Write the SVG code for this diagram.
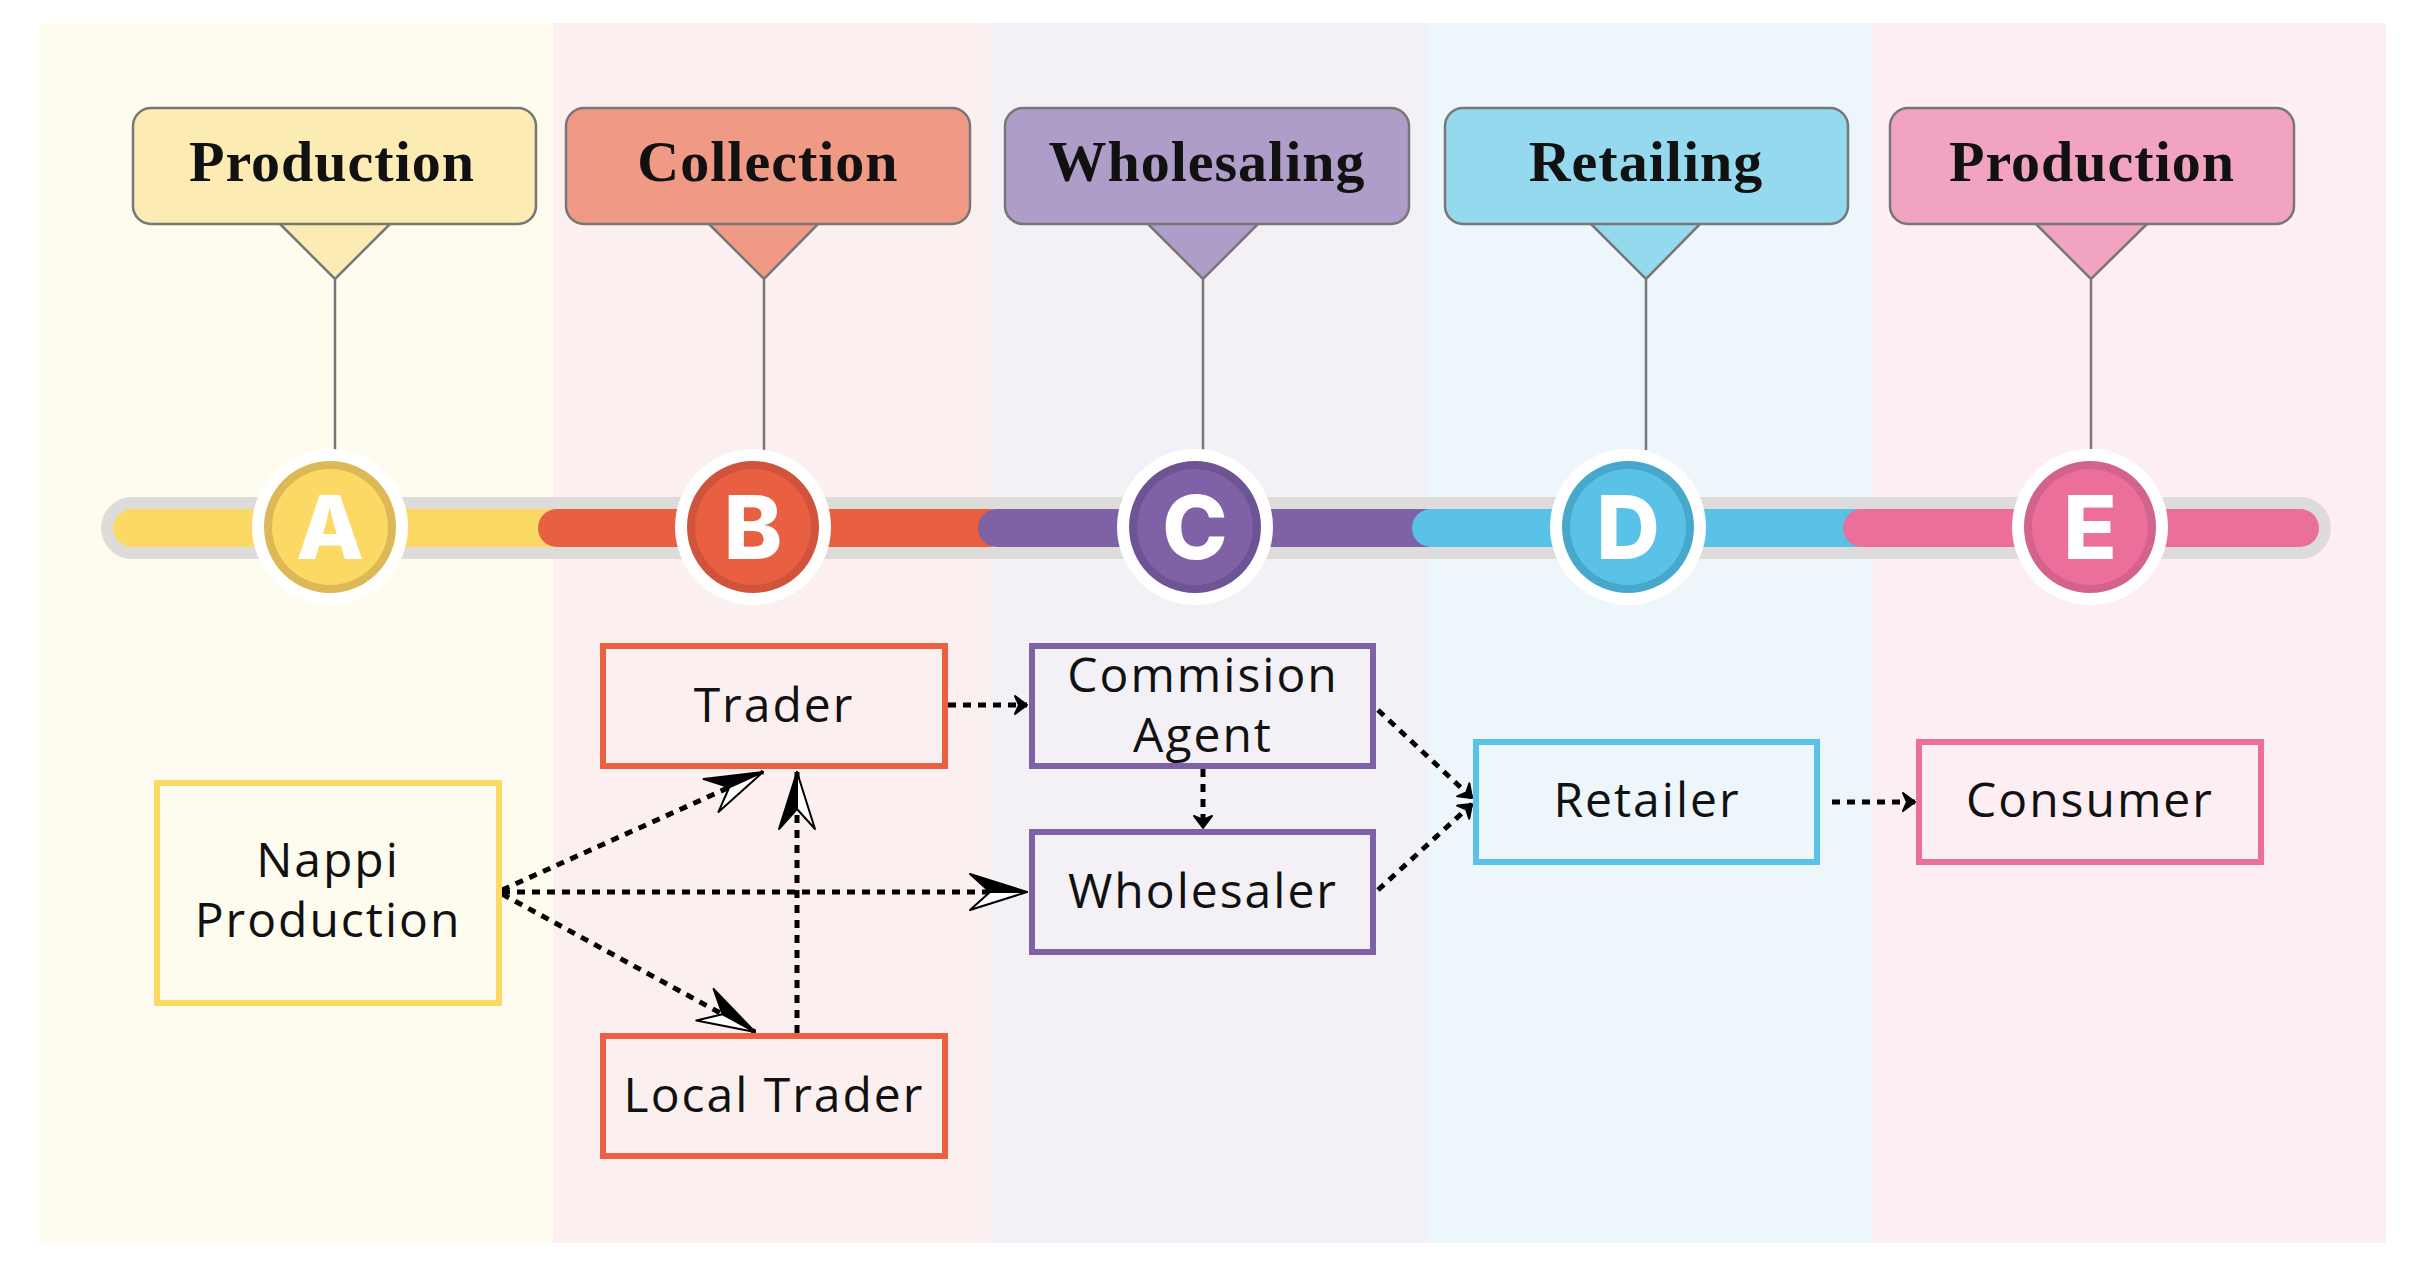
<svg xmlns="http://www.w3.org/2000/svg" width="2418" height="1278" viewBox="0 0 2418 1278">
<style>
.hbox{stroke:#777;stroke-width:2.5}
.htxt{font-family:"Liberation Serif",serif;font-weight:700;font-size:58px;letter-spacing:1px;fill:#111;text-anchor:middle}
.pin{stroke:#777;stroke-width:2.5;fill:none}
.ltr{font-family:Inter,"Open Sans",sans-serif;font-weight:800;font-size:88px;fill:#fff;text-anchor:middle}
.nbox{fill:none;stroke-width:6}
.ntxt{font-family:"Open Sans",sans-serif;font-size:48px;letter-spacing:2px;fill:#111;text-anchor:middle}
.conn{fill:none;stroke:#000;stroke-width:5;stroke-dasharray:8 7}
</style>
<defs>
<marker id="big" viewBox="-60 -20 62 40" markerWidth="62" markerHeight="40" refX="0" refY="0" orient="auto" markerUnits="userSpaceOnUse">
<path d="M0,0 L-57,-18 L-37,0 Z" fill="#000" stroke="#000" stroke-width="2" stroke-linejoin="round"/>
<path d="M0,0 L-37,0 L-57,18 Z" fill="#fff" stroke="#000" stroke-width="2" stroke-linejoin="round"/>
</marker>
<marker id="small" viewBox="-16 -10 18 20" markerWidth="18" markerHeight="20" refX="0" refY="0" orient="auto" markerUnits="userSpaceOnUse">
<path d="M0,0 L-12,-9 L-8,0 L-12,9 Z" fill="#000" stroke="#000" stroke-width="2" stroke-linejoin="round"/>
</marker>
</defs>

<g id="background">
<rect x="40" y="23" width="513" height="1220" fill="#FEFBEF"/>
<rect x="553" y="23" width="437" height="1220" fill="#FBF0EF"/>
<rect x="990" y="23" width="438" height="1220" fill="#F3F0F6"/>
<rect x="1428" y="23" width="445" height="1220" fill="#ECF6FB"/>
<rect x="1873" y="23" width="513" height="1220" fill="#FDEEF3"/>
</g>

<g id="track">
<rect x="101" y="497" width="2230" height="62" rx="31" fill="#DEDCDA"/>
<rect x="113" y="509" width="490" height="38" rx="19" fill="#FCD964"/>
<rect x="538" y="509" width="470" height="38" rx="19" fill="#E95F42"/>
<rect x="978" y="509" width="470" height="38" rx="19" fill="#7E62A5"/>
<rect x="1412" y="509" width="470" height="38" rx="19" fill="#5BC2E7"/>
<rect x="1843" y="509" width="476" height="38" rx="19" fill="#EC6F9B"/>
</g>

<g id="stage-A">
<path d="M280,224 L335,279 L390,224 Z" fill="#FDEBB4"/>
<path class="pin" d="M280,224 L335,279 L390,224 M335,279 L335,450" stroke="#999"/>
<rect class="hbox" x="133" y="108" width="403" height="116" rx="18" fill="#FDEBB4" stroke="#999"/>
<text class="htxt" x="332" y="181">Production</text>
<circle cx="330" cy="527" r="78" fill="#fff"/>
<circle cx="330" cy="527" r="66" fill="#DDB856"/>
<circle cx="330" cy="527" r="58" fill="#FCD964"/>
<text class="ltr" x="330" y="559">A</text>
</g>

<g id="stage-B">
<path d="M709,224 L764,279 L818,224 Z" fill="#F09A86"/>
<path class="pin" d="M709,224 L764,279 L818,224 M764,279 L764,450"/>
<rect class="hbox" x="566" y="108" width="404" height="116" rx="18" fill="#F09A86"/>
<text class="htxt" x="768" y="181">Collection</text>
<circle cx="753" cy="527" r="78" fill="#fff"/>
<circle cx="753" cy="527" r="66" fill="#D0533C"/>
<circle cx="753" cy="527" r="58" fill="#E95F42"/>
<text class="ltr" x="753" y="559">B</text>
</g>

<g id="stage-C">
<path d="M1148,224 L1203,279 L1258,224 Z" fill="#AE9DC8"/>
<path class="pin" d="M1148,224 L1203,279 L1258,224 M1203,279 L1203,450"/>
<rect class="hbox" x="1005" y="108" width="404" height="116" rx="18" fill="#AE9DC8"/>
<text class="htxt" x="1207" y="181">Wholesaling</text>
<circle cx="1195" cy="527" r="78" fill="#fff"/>
<circle cx="1195" cy="527" r="66" fill="#6E5494"/>
<circle cx="1195" cy="527" r="58" fill="#7E62A5"/>
<text class="ltr" x="1195" y="559">C</text>
</g>

<g id="stage-D">
<path d="M1591,224 L1646,279 L1700,224 Z" fill="#95D9EF"/>
<path class="pin" d="M1591,224 L1646,279 L1700,224 M1646,279 L1646,450"/>
<rect class="hbox" x="1445" y="108" width="403" height="116" rx="18" fill="#95D9EF"/>
<text class="htxt" x="1646" y="181">Retailing</text>
<circle cx="1628" cy="527" r="78" fill="#fff"/>
<circle cx="1628" cy="527" r="66" fill="#47A8CB"/>
<circle cx="1628" cy="527" r="58" fill="#5BC2E7"/>
<text class="ltr" x="1628" y="559">D</text>
</g>

<g id="stage-E">
<path d="M2036,224 L2091,279 L2147,224 Z" fill="#F2A3C2"/>
<path class="pin" d="M2036,224 L2091,279 L2147,224 M2091,279 L2091,450"/>
<rect class="hbox" x="1890" y="108" width="404" height="116" rx="18" fill="#F2A3C2"/>
<text class="htxt" x="2092" y="181">Production</text>
<circle cx="2090" cy="527" r="78" fill="#fff"/>
<circle cx="2090" cy="527" r="66" fill="#D3628C"/>
<circle cx="2090" cy="527" r="58" fill="#EC6F9B"/>
<text class="ltr" x="2090" y="559">E</text>
</g>

<g id="connectors">
<path class="conn" d="M502,890 L763,772" marker-end="url(#big)"/>
<path class="conn" d="M502,892 L1027,892" marker-end="url(#big)"/>
<path class="conn" d="M502,894 L755,1032" marker-end="url(#big)"/>
<path class="conn" d="M797,1033 L797,772" stroke-width="4" stroke-dasharray="10 8" marker-end="url(#big)"/>
<path class="conn" d="M948,705 L1027,705" marker-end="url(#small)"/>
<path class="conn" d="M1203,769 L1203,828" marker-end="url(#small)"/>
<path class="conn" d="M1378,710 L1472,798" marker-end="url(#small)"/>
<path class="conn" d="M1378,890 L1472,804" marker-end="url(#small)"/>
<path class="conn" d="M1832,802 L1915,802" marker-end="url(#small)"/>
</g>

<g id="node-nappi">
<rect class="nbox" x="157" y="783" width="342" height="220" stroke="#FCD964"/>
<text class="ntxt" x="328" y="877">Nappi</text>
<text class="ntxt" x="328" y="937">Production</text>
</g>
<g id="node-trader">
<rect class="nbox" x="603" y="646" width="342" height="120" stroke="#EA6041"/>
<text class="ntxt" x="774" y="722">Trader</text>
</g>
<g id="node-local-trader">
<rect class="nbox" x="603" y="1036" width="342" height="120" stroke="#EA6041"/>
<text class="ntxt" x="774" y="1112">Local Trader</text>
</g>
<g id="node-agent">
<rect class="nbox" x="1032" y="646" width="341" height="120" stroke="#7E62A5"/>
<text class="ntxt" x="1203" y="692">Commision</text>
<text class="ntxt" x="1203" y="752">Agent</text>
</g>
<g id="node-wholesaler">
<rect class="nbox" x="1032" y="832" width="341" height="120" stroke="#7E62A5"/>
<text class="ntxt" x="1203" y="908">Wholesaler</text>
</g>
<g id="node-retailer">
<rect class="nbox" x="1476" y="742" width="341" height="120" stroke="#5BC2E7"/>
<text class="ntxt" x="1647" y="817">Retailer</text>
</g>
<g id="node-consumer">
<rect class="nbox" x="1919" y="742" width="342" height="120" stroke="#EC6F9B"/>
<text class="ntxt" x="2090" y="817">Consumer</text>
</g>
</svg>
